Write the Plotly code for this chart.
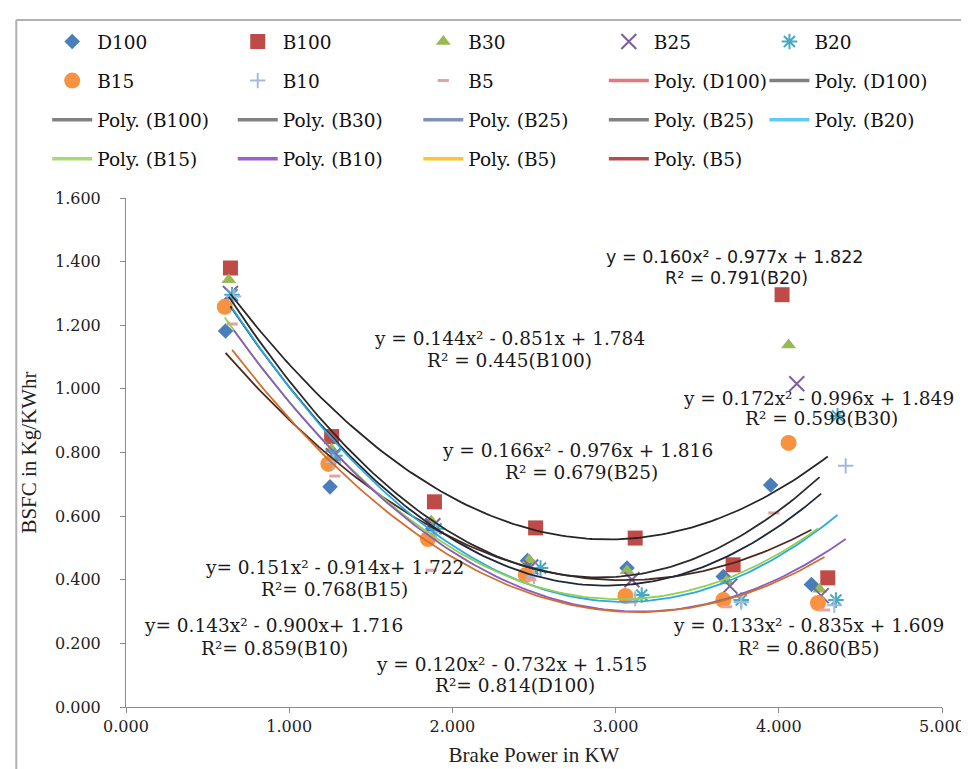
import numpy as np
import plotly.graph_objects as go

# ---------------- data ----------------
series_names = ["D100", "B100", "B30", "B25", "B20", "B15", "B10", "B5"]

d100_x = [0.61, 1.25, 1.88, 2.46, 3.07, 3.66, 3.95, 4.20]
d100_y = [1.182, 0.692, 0.560, 0.460, 0.437, 0.410, 0.698, 0.385]

b100_x = [0.64, 1.26, 1.89, 2.51, 3.12, 3.72, 4.02, 4.30]
b100_y = [1.380, 0.850, 0.645, 0.563, 0.531, 0.447, 1.296, 0.406]

b30_x = [0.63, 1.26, 1.87, 2.47, 3.07, 3.68, 4.06, 4.25]
b30_y = [1.343, 0.810, 0.585, 0.462, 0.428, 0.396, 1.138, 0.370]

b25_x = [0.64, 1.27, 1.88, 2.48, 3.10, 3.70, 4.11, 4.26]
b25_y = [1.300, 0.790, 0.570, 0.440, 0.400, 0.380, 1.016, 0.350]

b20_x = [0.65, 1.28, 1.90, 2.54, 3.16, 3.77, 4.36, 4.35]
b20_y = [1.296, 0.790, 0.560, 0.437, 0.352, 0.336, 0.915, 0.336]

b15_x = [0.605, 1.24, 1.85, 2.45, 3.06, 3.66, 4.06, 4.24]
b15_y = [1.258, 0.764, 0.528, 0.415, 0.349, 0.336, 0.830, 0.327]

b10_x = [0.66, 1.27, 1.90, 2.50, 3.12, 3.77, 4.41, 4.34]
b10_y = [1.290, 0.770, 0.550, 0.410, 0.340, 0.330, 0.758, 0.320]

b5_x = [0.65, 1.28, 1.87, 2.48, 3.10, 3.68, 3.97, 4.28]
b5_y = [1.204, 0.726, 0.430, 0.400, 0.330, 0.315, 0.610, 0.305]

series_x = [d100_x, b100_x, b30_x, b25_x, b20_x, b15_x, b10_x, b5_x]
series_y = [d100_y, b100_y, b30_y, b25_y, b20_y, b15_y, b10_y, b5_y]

# polynomial trendline coefficients printed on the chart (a*x^2 + b*x + c)
trend_a = [0.120, 0.144, 0.172, 0.166, 0.160, 0.151, 0.143, 0.133]
trend_b = [-0.732, -0.851, -0.996, -0.976, -0.977, -0.914, -0.900, -0.835]
trend_c = [1.515, 1.784, 1.849, 1.816, 1.822, 1.722, 1.716, 1.609]

eq_line1 = ["y = 0.120x\u00b2 - 0.732x + 1.515", "y = 0.144x\u00b2 - 0.851x + 1.784",
            "y = 0.172x\u00b2 - 0.996x + 1.849", "y = 0.166x\u00b2 - 0.976x + 1.816",
            "y = 0.160x\u00b2 - 0.977x + 1.822", "y= 0.151x\u00b2 - 0.914x+ 1.722",
            "y= 0.143x\u00b2 - 0.900x+ 1.716", "y = 0.133x\u00b2 - 0.835x + 1.609"]
eq_line2 = ["R\u00b2= 0.814(D100)", "R\u00b2 = 0.445(B100)", "R\u00b2 = 0.598(B30)",
            "R\u00b2 = 0.679(B25)", "R\u00b2 = 0.791(B20)", "R\u00b2= 0.768(B15)",
            "R\u00b2= 0.859(B10)", "R\u00b2 = 0.860(B5)"]

x_ticks = [0, 1, 2, 3, 4, 5]
y_ticks = [0.0, 0.2, 0.4, 0.6, 0.8, 1.0, 1.2, 1.4, 1.6]

# ---------------- styles ----------------
marker_symbols = ["diamond", "square", "triangle-up", "x-thin", "asterisk-open",
                  "circle", "cross-thin", "line-ew"]
marker_colors = ["#4A7EBB", "#BE4B48", "#98B954", "#7D60A0", "#46AAC5",
                 "#F69240", "#A5B9DC", "#E4A3A1"]
marker_sizes = [12, 15, 13, 15, 13, 16, 11, 8]
marker_legend = ["legend", "legend2", "legend3", "legend4", "legend5",
                 "legend", "legend2", "legend3"]
curve_colors = ["#4a2a1e", "#262626", "#2b2b2b", "#1f2838", "#27A9E1",
                "#92D050", "#8B5BC1", "#D0702E"]

# legend-only trendline entries (as in the original legend)
poly_names = ["Poly. (D100)", "Poly. (D100)", "Poly. (B100)", "Poly. (B30)",
              "Poly. (B25)", "Poly. (B25)", "Poly. (B20)", "Poly. (B15)",
              "Poly. (B10)", "Poly. (B5)", "Poly. (B5)"]
poly_colors = ["#E8767A", "#808080", "#808080", "#808080", "#7F92B8", "#808080",
               "#5FCBF2", "#A8DC72", "#9B63C9", "#FFC32E", "#B0504E"]
poly_legend = ["legend4", "legend5", "legend", "legend2", "legend3", "legend4",
               "legend5", "legend", "legend2", "legend3", "legend4"]

fig = go.Figure()

for i, name in enumerate(series_names):
    sym = marker_symbols[i]
    line_w = 0
    if sym in ("x-thin", "asterisk-open", "cross-thin", "line-ew"):
        line_w = 2 if sym != "line-ew" else 3
    fig.add_trace(go.Scatter(
        x=series_x[i], y=series_y[i], mode="markers", name=name,
        legend=marker_legend[i], legendgroup="m" + name,
        marker=dict(symbol=sym, size=marker_sizes[i], color=marker_colors[i],
                    line=dict(width=line_w, color=marker_colors[i]))))

for i, name in enumerate(series_names):
    xs = np.linspace(min(series_x[i]), max(series_x[i]), 120)
    ys = trend_a[i] * xs ** 2 + trend_b[i] * xs + trend_c[i]
    fig.add_trace(go.Scatter(x=xs, y=ys, mode="lines", showlegend=False,
                             hoverinfo="skip",
                             line=dict(color=curve_colors[i], width=1.8)))

for j, pname in enumerate(poly_names):
    fig.add_trace(go.Scatter(x=[None], y=[None], mode="lines", name=pname,
                             legend=poly_legend[j], legendgroup="p%d" % j,
                             line=dict(color=poly_colors[j], width=3.5)))

# equation annotations (pixel positions converted to data coordinates)
ann_px = [(504, 656, 508, 677), (502, 331, 502, 353), (812, 391, 815, 411),
          (571, 443, 575, 465), (728, 249, 730, 270), (327, 560, 327, 582),
          (266, 618, 267, 640), (802, 618, 802, 640)]
X0, XS, Y0, YS = 118.0, 163.6, 699.0, 318.1
annotations = []
for i in range(8):
    fam = "DejaVu Sans" if series_names[i] == "B20" else "DejaVu Serif"
    fsz = 17.5 if fam == "DejaVu Sans" else 18.5
    p = ann_px[i]
    for k, txt in enumerate([eq_line1[i], eq_line2[i]]):
        px, py = p[2 * k], p[2 * k + 1]
        annotations.append(dict(
            x=(px - X0) / XS, y=(Y0 - py) / YS, xref="x", yref="y",
            text=txt, showarrow=False, xanchor="center", yanchor="middle",
            font=dict(family=fam, size=fsz, color="#1a1a1a")))

legend_font = dict(family="DejaVu Serif", size=18.5, color="#111111")
col_px = [39, 225, 411, 597, 758]
leg_common = dict(orientation="v", yanchor="top", xanchor="left",
                  bgcolor="rgba(0,0,0,0)", font=legend_font,
                  traceorder="grouped", tracegroupgap=12, itemwidth=40)
y_leg = (699 - 15) / 509.0

fig.update_layout(
    width=969, height=769,
    margin=dict(l=118, r=33, t=190, b=70),
    paper_bgcolor="white", plot_bgcolor="white",
    showlegend=True,
    legend=dict(x=(col_px[0] - 118) / 818.0, y=y_leg, **leg_common),
    legend2=dict(x=(col_px[1] - 118) / 818.0, y=y_leg, **leg_common),
    legend3=dict(x=(col_px[2] - 118) / 818.0, y=y_leg, **leg_common),
    legend4=dict(x=(col_px[3] - 118) / 818.0, y=y_leg, **leg_common),
    legend5=dict(x=(col_px[4] - 118) / 818.0, y=y_leg, **leg_common),
    xaxis=dict(range=[0, 5], tickvals=x_ticks, tickformat=".3f",
               showgrid=False, zeroline=False, showline=True,
               linecolor="#8c8c8c", linewidth=1, ticks="outside",
               ticklen=5, tickcolor="#8c8c8c",
               tickfont=dict(family="DejaVu Serif", size=16, color="#222222"),
               title=dict(text="Brake Power in KW", standoff=12,
                          font=dict(family="Liberation Serif", size=21,
                                    color="#222222"))),
    yaxis=dict(range=[0, 1.6], tickvals=y_ticks, tickformat=".3f",
               showgrid=False, zeroline=False, showline=True,
               linecolor="#8c8c8c", linewidth=1, ticks="outside",
               ticklen=5, tickcolor="#8c8c8c", ticklabelstandoff=16,
               tickfont=dict(family="DejaVu Serif", size=16, color="#222222"),
               title=dict(text="BSFC in Kg/KWhr", standoff=12,
                          font=dict(family="Liberation Serif", size=21,
                                    color="#222222"))),
    annotations=annotations,
    shapes=[
        dict(type="line", xref="paper", yref="paper",
             x0=(8 - 118) / 818.0, x1=(966 - 118) / 818.0,
             y0=(699 - 12) / 509.0, y1=(699 - 12) / 509.0,
             line=dict(color="#b0b0b0", width=2)),
        dict(type="line", xref="paper", yref="paper",
             x0=(8 - 118) / 818.0, x1=(8 - 118) / 818.0,
             y0=(699 - 12) / 509.0, y1=(699 - 769) / 509.0,
             line=dict(color="#b0b0b0", width=2)),
        dict(type="line", xref="paper", yref="paper",
             x0=(966 - 118) / 818.0, x1=(966 - 118) / 818.0,
             y0=(699 - 12) / 509.0, y1=(699 - 769) / 509.0,
             line=dict(color="#b0b0b0", width=2)),
    ],
)

fig.write_html("out.html")
